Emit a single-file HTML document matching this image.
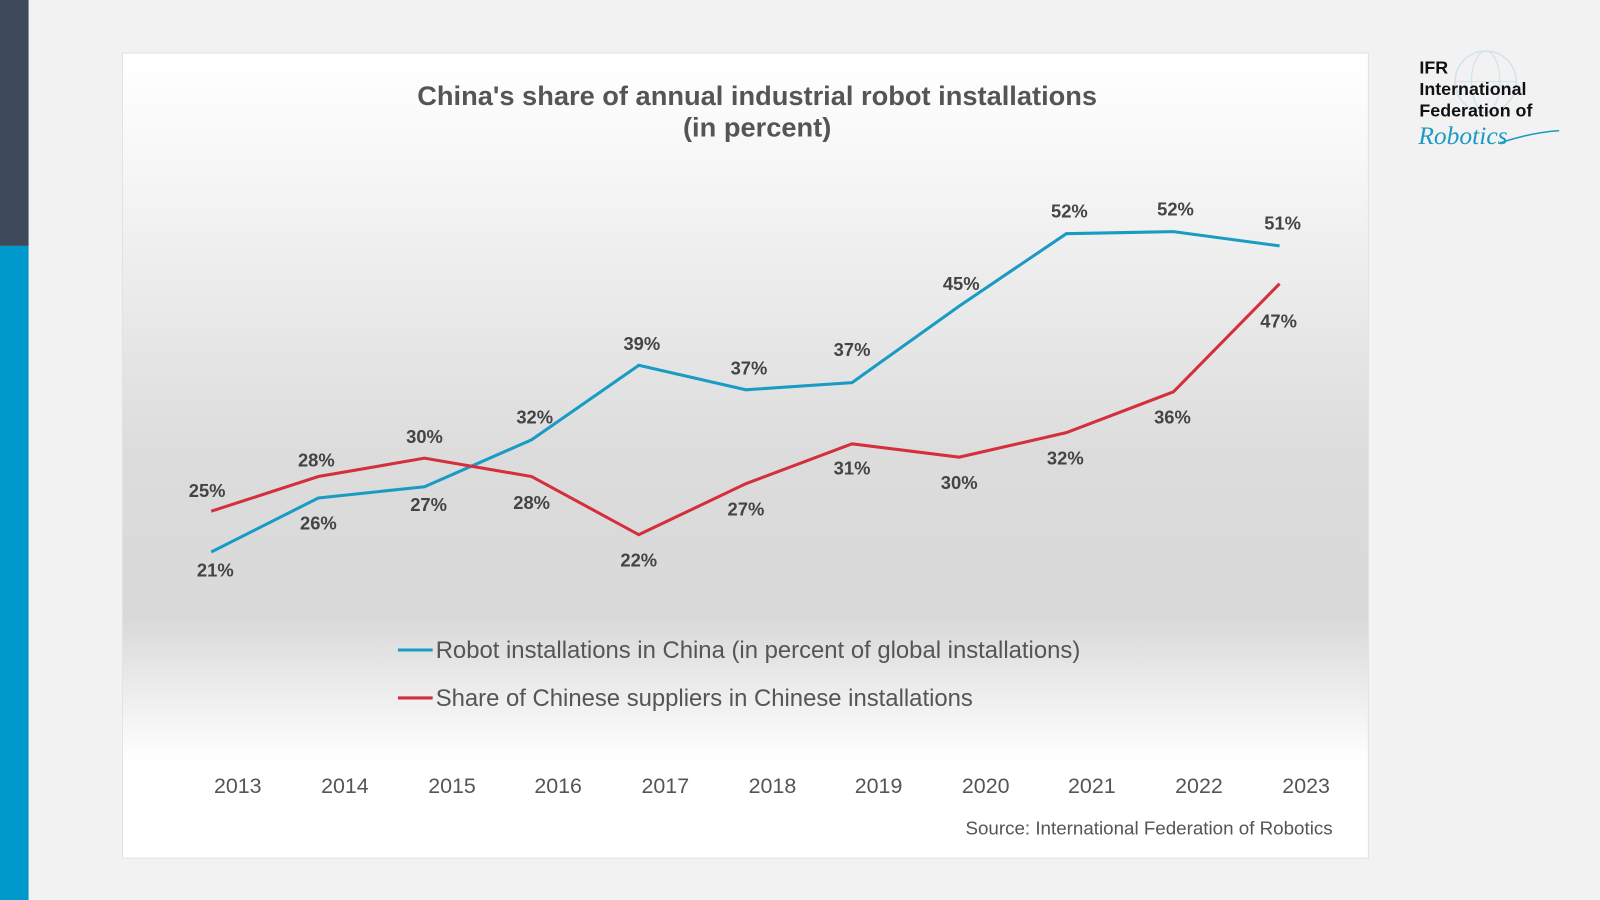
<!DOCTYPE html>
<html><head><meta charset="utf-8"><style>
html,body{margin:0;padding:0;background:#f2f2f2;}
svg{display:block;font-family:"Liberation Sans",sans-serif;}
</style></head><body>
<svg width="1600" height="900" viewBox="0 0 1568 882" preserveAspectRatio="none" xmlns="http://www.w3.org/2000/svg">
<defs>
<linearGradient id="g" x1="0" y1="0" x2="0" y2="1">
<stop offset="0" stop-color="#ffffff"/>
<stop offset="0.12" stop-color="#f8f8f8"/>
<stop offset="0.5" stop-color="#dcdcdc"/>
<stop offset="0.7" stop-color="#d9d9d9"/>
<stop offset="0.88" stop-color="#ffffff"/>
<stop offset="1" stop-color="#ffffff"/>
</linearGradient>
</defs>
<rect x="0" y="0" width="1568" height="882" fill="#f2f2f2"/>
<rect x="0" y="0" width="28" height="241" fill="#3d4a5c"/>
<rect x="0" y="241" width="28" height="641" fill="#0099cc"/>
<rect x="120" y="52" width="1221" height="789" fill="url(#g)" stroke="#e2e2e2"/>
<g fill="#555" font-weight="bold" font-size="26.7" text-anchor="middle">
<text x="742" y="103">China's share of annual industrial robot installations</text>
<text x="742" y="134">(in percent)</text>
</g>
<polyline fill="none" stroke="#1a9bc4" stroke-width="3" points="207,541 312,488 416,477 521,431 626,358 731,382 835,375 940,300 1045,229 1150,227 1254,241"/>
<polyline fill="none" stroke="#d32f3c" stroke-width="3" points="207,501 312,467 416,449 521,467 626,524 731,474 835,435 940,448 1045,424 1150,384 1254,278"/>
<g fill="#444" font-weight="bold" font-size="18" text-anchor="middle">
<text x="211" y="565">21%</text><text x="312" y="519">26%</text><text x="420" y="501">27%</text>
<text x="524" y="415">32%</text><text x="629" y="343">39%</text><text x="734" y="367">37%</text>
<text x="835" y="349">37%</text><text x="942" y="284">45%</text><text x="1048" y="213">52%</text>
<text x="1152" y="211">52%</text><text x="1257" y="225">51%</text>
<text x="203" y="487">25%</text><text x="310" y="457">28%</text><text x="416" y="434">30%</text>
<text x="521" y="499">28%</text><text x="626" y="555">22%</text><text x="731" y="505">27%</text>
<text x="835" y="465">31%</text><text x="940" y="479">30%</text><text x="1044" y="455">32%</text>
<text x="1149" y="415">36%</text><text x="1253" y="321">47%</text>
</g>
<line x1="390" y1="637" x2="424" y2="637" stroke="#1a9bc4" stroke-width="3"/>
<line x1="390" y1="684" x2="424" y2="684" stroke="#d32f3c" stroke-width="3"/>
<g fill="#555" font-size="23.4">
<text x="427" y="645">Robot installations in China (in percent of global installations)</text>
<text x="427" y="692">Share of Chinese suppliers in Chinese installations</text>
</g>
<g fill="#555" font-size="21" text-anchor="middle">
<text x="233" y="777">2013</text><text x="338" y="777">2014</text><text x="443" y="777">2015</text>
<text x="547" y="777">2016</text><text x="652" y="777">2017</text><text x="757" y="777">2018</text>
<text x="861" y="777">2019</text><text x="966" y="777">2020</text><text x="1070" y="777">2021</text>
<text x="1175" y="777">2022</text><text x="1280" y="777">2023</text>
</g>
<text x="1306" y="818" fill="#555" font-size="18.4" text-anchor="end">Source: International Federation of Robotics</text>
<circle cx="1456" cy="80" r="30" fill="none" stroke="#cfe3ee" stroke-width="1.5"/>
<ellipse cx="1456" cy="80" rx="14" ry="30" fill="none" stroke="#cfe3ee" stroke-width="1.2"/>
<line x1="1426" y1="80" x2="1486" y2="80" stroke="#cfe3ee"/>
<g fill="#111" font-weight="bold" font-size="17.5">
<text x="1391" y="72">IFR</text>
<text x="1391" y="93">International</text>
<text x="1391" y="114">Federation of</text>
</g>
<text x="1390" y="141" fill="#1a9bc4" font-size="25" font-style="italic" font-family="Liberation Serif,serif">Robotics</text>
<path d="M1470 140 Q1500 130 1528 128" stroke="#1a9bc4" fill="none" stroke-width="1.5"/>
</svg>
</body></html>
